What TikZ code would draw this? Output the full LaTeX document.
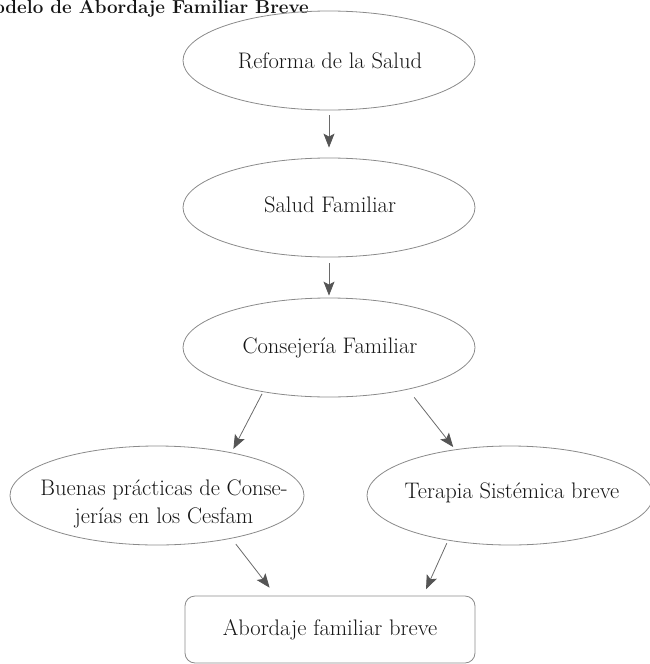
\documentclass[tikz,border=0pt]{standalone}
\usetikzlibrary{shapes.geometric,arrows.meta}
\definecolor{edgegray}{HTML}{8A8A8A}
\definecolor{arrgray}{HTML}{6A6A6A}
\definecolor{tipgray}{HTML}{555555}
\definecolor{inkc}{HTML}{151515}
\begin{document}
\begin{tikzpicture}[x=1pt,y=-1pt,
  ell/.style={ellipse, draw=edgegray, line width=0.8pt, minimum width=292pt, minimum height=99pt, inner sep=0pt},
  lbl/.style={text=inkc, font=\fontsize{22.5}{28}\selectfont, inner sep=0pt},
  flow/.style={draw=arrgray, line width=0.8pt, -{Stealth[length=14pt,width=11pt,inset=3pt,color=tipgray]}},
  boxnode/.style={rectangle, rounded corners=10pt, draw=edgegray, line width=0.8pt, minimum width=290pt, minimum height=67pt, inner sep=0pt, text=inkc, font=\fontsize{22.5}{28}\selectfont}]
\useasboundingbox (0,0) rectangle (650,664);
\clip (0,0) rectangle (650,664);

\node[font=\bfseries\fontsize{18.8}{22}\selectfont, text=inkc, anchor=base east, inner sep=0pt] (title) at (309,13) {Modelo de Abordaje Familiar Breve};

\node[ell] (e1) at (329,60.5) {};
\node[lbl, anchor=base] (t1) at (330,68) {Reforma de la Salud};

\node[ell] (e2) at (329,207.5) {};
\node[lbl, anchor=base] (t2) at (330,212) {Salud Familiar};

\node[ell] (e3) at (329,347.5) {};
\node[lbl, anchor=base] (t3) at (330,353) {Consejería Familiar};

\node[ell, minimum width=294pt] (e4) at (157,495.5) {};
\node[lbl, align=center, anchor=center] (t4) at (164,504) {Buenas prácticas de Conse-\\jerías en los Cesfam};

\node[ell, minimum width=286pt] (e5) at (510,495.5) {};
\node[lbl, anchor=base] (t5) at (512,498) {Terapia Sistémica breve};

\node[boxnode] (b) at (330,629.5) {Abordaje familiar breve};

\draw[flow, shorten <=5pt, shorten >=10pt] (e1.south) -- (e2.north);
\draw[flow, shorten <=6pt, shorten >=2pt] (e2.south) -- (e3.north);
\draw[flow, shorten <=2pt, shorten >=4pt] (e3.214) -- (e4.30.7);
\draw[flow, shorten <=10pt, shorten >=3pt] (e3.332.3) -- (e5.140.6);
\draw[flow, shorten <=7pt, shorten >=10pt] (e4.330.6) -- (b.148.2);
\draw[flow, shorten <=3pt, shorten >=7pt] (e5.216.2) -- (b.20.7);
\end{tikzpicture}
\end{document}
